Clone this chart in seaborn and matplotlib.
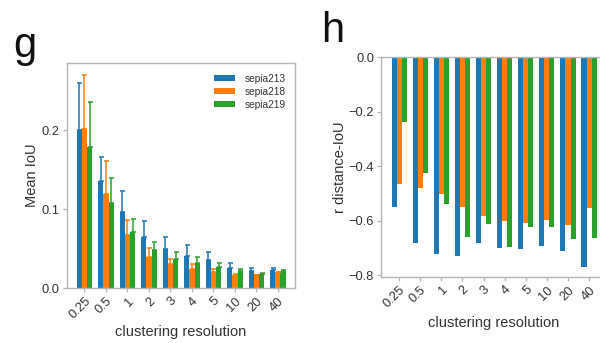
import numpy as np
import pandas as pd
import matplotlib
matplotlib.use("Agg")
import matplotlib.pyplot as plt
import seaborn as sns

# clustering resolutions (categorical x axis)
resolutions = ["0.25", "0.5", "1", "2", "3", "4", "5", "10", "20", "40"]
samples = ["sepia213", "sepia218", "sepia219"]
colors = ["#1f77b4", "#ff7f0e", "#2ca02c"]

# panel g: mean IoU and its spread (upper error only)
iou_213 = [0.200, 0.136, 0.096, 0.065, 0.050, 0.041, 0.036, 0.025, 0.022, 0.023]
iou_218 = [0.202, 0.119, 0.067, 0.040, 0.030, 0.024, 0.020, 0.016, 0.016, 0.020]
iou_219 = [0.179, 0.108, 0.071, 0.048, 0.037, 0.032, 0.027, 0.022, 0.018, 0.022]
err_213 = [0.060, 0.030, 0.027, 0.020, 0.015, 0.013, 0.010, 0.007, 0.004, 0.003]
err_218 = [0.068, 0.042, 0.019, 0.011, 0.007, 0.006, 0.004, 0.002, 0.001, 0.001]
err_219 = [0.057, 0.031, 0.017, 0.011, 0.009, 0.007, 0.005, 0.002, 0.001, 0.001]

# panel h: correlation between distance and IoU
r_213 = [-0.549, -0.681, -0.723, -0.729, -0.684, -0.700, -0.706, -0.693, -0.712, -0.769]
r_218 = [-0.467, -0.480, -0.504, -0.551, -0.582, -0.601, -0.608, -0.598, -0.617, -0.555]
r_219 = [-0.240, -0.424, -0.539, -0.659, -0.613, -0.696, -0.622, -0.622, -0.666, -0.663]

iou_df = pd.DataFrame({
    "res": resolutions * 3,
    "sample": np.repeat(samples, len(resolutions)),
    "iou": iou_213 + iou_218 + iou_219,
})
r_df = pd.DataFrame({
    "res": resolutions * 3,
    "sample": np.repeat(samples, len(resolutions)),
    "r": r_213 + r_218 + r_219,
})
errors = [err_213, err_218, err_219]

sns.set_style("ticks")
plt.rcParams["font.family"] = ["Liberation Sans", "DejaVu Sans"]
spine_col = "#b5b5b5"
text_col = "#333333"
label_size = 10.5

fig = plt.figure(figsize=(6.0, 3.43), dpi=100)
ax_g = fig.add_axes([0.111, 0.160, 0.3805, 0.656])
ax_h = fig.add_axes([0.635, 0.1924, 0.3767, 0.6414])

bar_kw = dict(order=resolutions, hue_order=samples, palette=colors,
              saturation=1, width=0.72, errorbar=None, linewidth=0,
              edgecolor="none")

# ---- panel g ----
sns.barplot(data=iou_df, x="res", y="iou", hue="sample", ax=ax_g, **bar_kw)
for cont, err, col in zip(ax_g.containers, errors, colors):
    xs = [p.get_x() + p.get_width() / 2 for p in cont]
    ys = [p.get_height() for p in cont]
    ax_g.errorbar(xs, ys, yerr=[np.zeros(len(err)), err], fmt="none",
                  ecolor=col, elinewidth=1.1, capsize=1.8, capthick=1.1)
ax_g.set_xlim(-0.83, 9.79)
ax_g.set_ylim(0, 0.285)
ax_g.set_yticks([0.0, 0.1, 0.2])
ax_g.set_yticklabels(["0.0", "0.1", "0.2"])
ax_g.set_xlabel("clustering resolution", fontsize=label_size, color=text_col, labelpad=3)
ax_g.set_ylabel("Mean IoU", fontsize=label_size, color=text_col, labelpad=2)
leg = ax_g.legend(loc="upper right", bbox_to_anchor=(0.985, 0.98), frameon=False,
                  fontsize=7.3, handlelength=2.1, handleheight=0.55,
                  labelspacing=0.3, handletextpad=0.9, borderaxespad=0.2)
for t in leg.get_texts():
    t.set_color(text_col)

# ---- panel h ----
sns.barplot(data=r_df, x="res", y="r", hue="sample", legend=False, ax=ax_h, **bar_kw)
ax_h.set_xlim(-0.86, 9.85)
ax_h.set_ylim(-0.807, 0.0)
ax_h.set_yticks([0.0, -0.2, -0.4, -0.6, -0.8])
ax_h.set_xlabel("clustering resolution", fontsize=label_size, color=text_col, labelpad=4)
ax_h.set_ylabel("r distance-IoU", fontsize=label_size, color=text_col, labelpad=1)

for ax in (ax_g, ax_h):
    for sp in ax.spines.values():
        sp.set_visible(True)
        sp.set_color(spine_col)
        sp.set_linewidth(1.0)
    ax.tick_params(axis="both", length=3, width=0.9, color=spine_col,
                   labelsize=9.3, labelcolor=text_col, pad=2)
    for lab in ax.get_xticklabels():
        lab.set_rotation(45)
        lab.set_ha("right")
        lab.set_rotation_mode("anchor")

fig.text(13 / 600, 1 - 57 / 343, "g", fontsize=30, color="#111111", va="baseline")
fig.text(321 / 600, 1 - 42 / 343, "h", fontsize=30, color="#111111", va="baseline")

fig.savefig("out.png", dpi=100)
